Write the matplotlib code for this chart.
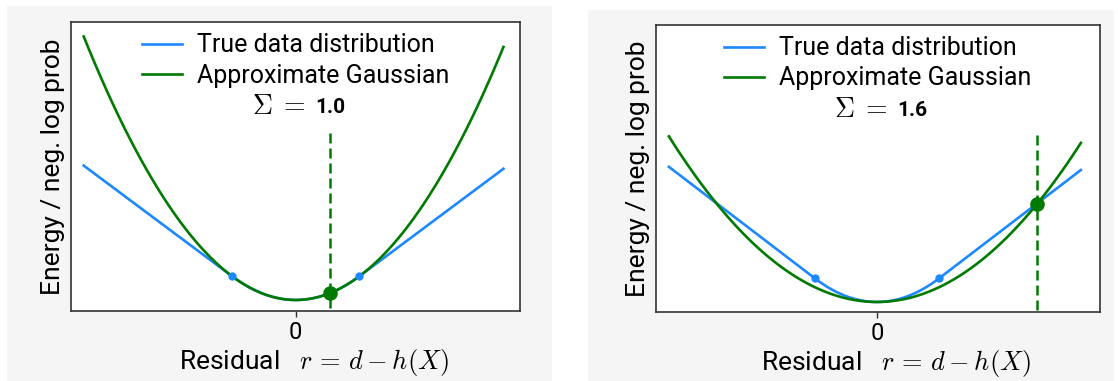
import numpy as np
import matplotlib
matplotlib.use("Agg")
import matplotlib.pyplot as plt
from matplotlib.patches import Rectangle

plt.rcParams['font.family'] = ['Roboto', 'DejaVu Sans']
plt.rcParams['mathtext.fontset'] = 'cm'

# ---- data ----
sigma_values = [1.0, 1.6]          # variance of the approximate Gaussian per panel
sigma_labels = ["1.0", "1.6"]
huber_delta = 3.0                  # where the true curve switches from quadratic to linear
sample_residuals = [1.6, 7.7]      # big green dot / dashed line position per panel
residual_start, residual_stop, residual_step = -10.0, 9.8, 0.2
tick_positions = [0]
tick_labels = ["0"]
legend_labels = ["True data distribution", "Approximate Gaussian"]

BLUE = "#1E88FF"
GREEN = "#007A00"
BG = "#F5F5F5"

r = np.arange(residual_start, residual_stop + residual_step / 2, residual_step)


def true_energy(x):
    x = np.asarray(x, dtype=float)
    a = np.abs(x)
    return np.where(a <= huber_delta, 0.5 * x ** 2, huber_delta * (a - 0.5 * huber_delta))


def gauss_energy(x, s):
    x = np.asarray(x, dtype=float)
    return 0.5 * x ** 2 / s


W, H = 1118, 381
fig = plt.figure(figsize=(W / 100, H / 100), dpi=100)
fig.patch.set_facecolor("white")

# panel backgrounds (pixel boxes -> figure fraction)
for (x0, y0, x1, y1) in [(7, 6, 552, 381), (588, 10, 1114, 381)]:
    fig.add_artist(Rectangle((x0 / W, 1 - y1 / H), (x1 - x0) / W, (y1 - y0) / H,
                             transform=fig.transFigure, facecolor=BG, edgecolor="none", zorder=-10))

axes_px = [(71, 22, 520, 311), (656, 25, 1100, 312)]
xlims = [(-10.6, 10.58), (-10.62, 10.72)]
ylims = [(-2.09, 52.75), (-1.89, 52.26)]

FS_LAB = 19
FS_LEG = 18
for i, (x0, y0, x1, y1) in enumerate(axes_px):
    ax = fig.add_axes([x0 / W, 1 - y1 / H, (x1 - x0) / W, (y1 - y0) / H])
    ax.set_facecolor("white")
    s = sigma_values[i]
    ax.plot(r, true_energy(r), color=BLUE, lw=1.9, zorder=2, label=legend_labels[0])
    ax.plot(r, gauss_energy(r, s), color=GREEN, lw=1.9, zorder=3, label=legend_labels[1])
    dots = np.array([-huber_delta, huber_delta])
    ax.plot(dots, true_energy(dots), 'o', color=BLUE, ms=6, zorder=4, mec='none')
    rs = sample_residuals[i]
    ax.vlines(rs, -1.5, 32, colors=GREEN, linestyles=(0, (4, 2)), lw=1.8, zorder=3)
    ax.plot([rs], [gauss_energy(rs, s)], 'o', color=GREEN, ms=10.5, zorder=5, mec='none')

    ax.set_xlim(*xlims[i])
    ax.set_ylim(*ylims[i])
    ax.set_xticks(tick_positions)
    ax.set_xticklabels(tick_labels, fontsize=17)
    ax.set_yticks([])
    ax.tick_params(axis='x', length=4, width=1, color="#333333", pad=3)
    for sp in ax.spines.values():
        sp.set_color("#333333")
        sp.set_linewidth(1.2)

    ax.set_ylabel("Energy / neg. log prob", fontsize=FS_LAB, labelpad=4)
    ax.set_xlabel(r"Residual   $r\,=\,d - h(X)$", fontsize=FS_LAB)
    ax.xaxis.set_label_coords(0.54, -0.125)

    leg = ax.legend(loc="upper center", bbox_to_anchor=(0.5, 1.0), frameon=False,
                    fontsize=FS_LEG, handlelength=1.6, handletextpad=0.6,
                    labelspacing=0.25, borderaxespad=0.05)

    ax.text(0.522, 0.706, r"$\Sigma\;=$", transform=ax.transAxes, fontsize=20,
            ha="right", va="center")
    ax.text(0.543, 0.703, sigma_labels[i], transform=ax.transAxes, fontsize=15,
            fontweight="bold", ha="left", va="center")

fig.savefig("out.png", dpi=100)
